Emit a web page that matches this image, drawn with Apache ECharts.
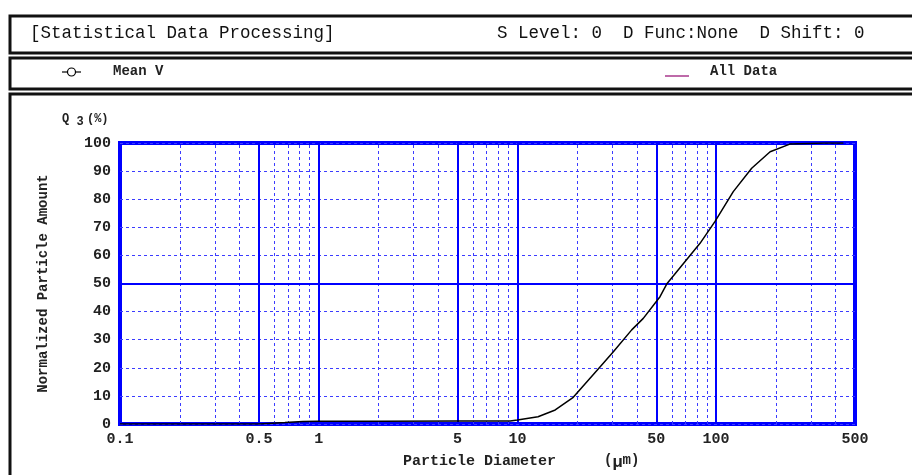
<!DOCTYPE html>
<html>
<head>
<meta charset="utf-8">
<script src="https://cdn.jsdelivr.net/npm/echarts@6/dist/echarts.min.js"></script>
<style>
  html, body { margin: 0; padding: 0; background: #fff; }
  #chart { width: 912px; height: 475px; }
</style>
</head>
<body>
<div id="chart"></div>
<script>
// particle diameter (um) and cumulative Q3 (%)
const diameters = [0.1, 0.5, 0.556, 0.676, 0.833, 1, 2, 5, 9.2, 10, 12.7, 15.5, 19.1, 26.1, 30.4, 37.6, 43, 52.2, 56.4, 83, 98.6, 122, 151, 187, 235, 353, 437];
const q3Values = [0, 0, 0.2, 0.5, 0.9, 1.0, 1.0, 1.1, 1.1, 1.4, 2.6, 5, 9.5, 20.4, 25.7, 33.5, 37.6, 45.3, 49.8, 64.3, 72, 82.7, 91, 96.9, 99.6, 100, 100];

// x tick labels and grid lines
const xTickLabels = [0.1, 0.5, 1, 5, 10, 50, 100, 500];
const majorLinesX = [0.5, 1, 5, 10, 50, 100];
const minorLinesX = [0.2, 0.3, 0.4, 0.6, 0.7, 0.8, 0.9, 2, 3, 4, 6, 7, 8, 9, 20, 30, 40, 60, 70, 80, 90, 200, 300, 400];

const chart = echarts.init(document.getElementById('chart'));

const mono = 'Liberation Mono, Courier New, monospace';
const blue = '#0000ff';
const dashBlue = '#3c3cff';

const gridLines = [];
minorLinesX.forEach(v => gridLines.push({
  xAxis: v, label: { show: false },
  lineStyle: { color: dashBlue, width: 1, type: [3, 3] }
}));
majorLinesX.forEach(v => gridLines.push({
  xAxis: v, label: { show: false },
  lineStyle: { color: blue, width: 2, type: 'solid' }
}));
gridLines.push({
  yAxis: 50, label: { show: false },
  lineStyle: { color: blue, width: 2, type: 'solid' }
});

// tick labels placed under the axis via transparent markLines
const tickLines = xTickLabels.map(v => ({
  xAxis: v,
  lineStyle: { color: 'rgba(0,0,0,0)', width: 1 },
  label: {
    show: true, position: 'start', distance: 8,
    formatter: String(v),
    color: '#222', fontFamily: mono, fontWeight: 'bold', fontSize: 15
  }
}));

const option = {
  animation: false,
  backgroundColor: '#fff',
  grid: {
    left: 120, right: 57, top: 143, bottom: 51,
    show: true, borderColor: blue, borderWidth: 4
  },
  xAxis: {
    type: 'log', logBase: 10, min: 0.1, max: 500,
    axisLine: { show: false }, axisTick: { show: false },
    axisLabel: { show: false }, splitLine: { show: false }
  },
  yAxis: {
    type: 'value', min: 0, max: 100, interval: 10,
    name: 'Normalized Particle Amount',
    nameLocation: 'middle', nameGap: 70,
    nameTextStyle: { fontFamily: mono, fontWeight: 'bold', fontSize: 14, color: '#222' },
    axisLine: { show: false }, axisTick: { show: false },
    axisLabel: { color: '#222', fontFamily: mono, fontWeight: 'bold', fontSize: 15, margin: 9 },
    splitLine: { lineStyle: { color: dashBlue, width: 1, type: [3, 3] } }
  },
  series: [
    {
      type: 'line', data: [], z: 1,
      markLine: { silent: true, symbol: 'none', animation: false, data: gridLines }
    },
    {
      type: 'line', data: [], z: 1,
      markLine: { silent: true, symbol: 'none', animation: false, data: tickLines }
    },
    {
      name: 'All Data', type: 'line', z: 5,
      data: diameters.map((d, i) => [d, q3Values[i]]),
      showSymbol: false,
      lineStyle: { color: '#000', width: 1.5 },
      itemStyle: { color: '#000' }
    }
  ],
  graphic: [
    // panel frames
    { type: 'rect', shape: { x: 10, y: 16, width: 920, height: 37 }, style: { fill: 'none', stroke: '#111', lineWidth: 3 } },
    { type: 'rect', shape: { x: 10, y: 58, width: 920, height: 31 }, style: { fill: 'none', stroke: '#111', lineWidth: 3 } },
    { type: 'rect', shape: { x: 10, y: 94, width: 920, height: 400 }, style: { fill: 'none', stroke: '#111', lineWidth: 3 } },
    // header texts
    { type: 'text', left: 30, top: 24, style: { text: '[Statistical Data Processing]', font: '17.5px ' + mono, fill: '#111' } },
    { type: 'text', left: 497, top: 24, style: { text: 'S Level: 0  D Func:None  D Shift: 0', font: '17.5px ' + mono, fill: '#111' } },
    // legend
    { type: 'line', shape: { x1: 62, y1: 72, x2: 81, y2: 72 }, style: { stroke: '#000', lineWidth: 1.2 } },
    { type: 'circle', shape: { cx: 71.5, cy: 72, r: 4 }, style: { fill: '#fff', stroke: '#000', lineWidth: 1.2 } },
    { type: 'text', left: 113, top: 64, style: { text: 'Mean V', font: 'bold 14px ' + mono, fill: '#222' } },
    { type: 'line', shape: { x1: 665, y1: 76, x2: 689, y2: 76 }, style: { stroke: '#a8388c', lineWidth: 1.5 } },
    { type: 'text', left: 710, top: 64, style: { text: 'All Data', font: 'bold 14px ' + mono, fill: '#222' } },
    // y unit
    {
      type: 'text', left: 62, top: 113,
      style: {
        text: '{q|Q}{s| 3} {q|(%)}',
        rich: {
          q: { font: 'bold 12px ' + mono, fill: '#222' },
          s: { font: 'bold 12px ' + mono, fill: '#222', padding: [6, 0, 0, 0] }
        }
      }
    },
    // x axis name
    { type: 'text', left: 403, top: 454, style: { text: 'Particle Diameter', font: 'bold 15px ' + mono, fill: '#222' } },
    {
      type: 'text', left: 604, top: 453,
      style: {
        text: '({mu|μ}m)',
        font: 'bold 14px ' + mono, fill: '#222',
        rich: { mu: { font: 'bold 17px ' + mono, fill: '#222', padding: [6, 0, 0, 0] } }
      }
    }
  ]
};

chart.setOption(option);
</script>
</body>
</html>
